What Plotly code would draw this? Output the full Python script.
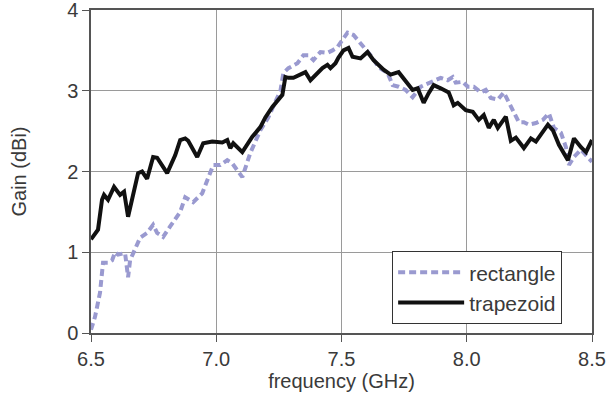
import plotly.graph_objects as go

# trapezoid (black solid)
trap_f = [6.500, 6.528, 6.544, 6.552, 6.568, 6.592, 6.616, 6.632, 6.648, 6.664,
          6.688, 6.704, 6.724, 6.748, 6.764, 6.804, 6.816, 6.836, 6.856, 6.876,
          6.888, 6.924, 6.948, 6.984, 7.024, 7.044, 7.056, 7.068, 7.104, 7.144,
          7.176, 7.196, 7.224, 7.248, 7.264, 7.276, 7.288, 7.308, 7.336, 7.356,
          7.376, 7.396, 7.424, 7.444, 7.456, 7.476, 7.488, 7.508, 7.528, 7.544,
          7.576, 7.604, 7.628, 7.668, 7.696, 7.728, 7.756, 7.784, 7.804, 7.828,
          7.848, 7.868, 7.896, 7.928, 7.948, 7.964, 7.996, 8.024, 8.048, 8.068,
          8.088, 8.108, 8.124, 8.144, 8.156, 8.176, 8.196, 8.228, 8.256, 8.276,
          8.304, 8.324, 8.344, 8.368, 8.404, 8.428, 8.456, 8.476, 8.500]
trap_g = [1.16, 1.28, 1.65, 1.71, 1.65, 1.81, 1.71, 1.75, 1.44, 1.65,
          1.98, 2.00, 1.91, 2.18, 2.17, 1.98, 2.06, 2.20, 2.39, 2.41,
          2.38, 2.18, 2.35, 2.37, 2.36, 2.39, 2.29, 2.35, 2.24, 2.43,
          2.55, 2.67, 2.80, 2.89, 2.95, 3.17, 3.16, 3.16, 3.20, 3.23,
          3.13, 3.20, 3.28, 3.32, 3.28, 3.34, 3.41, 3.50, 3.53, 3.42,
          3.40, 3.48, 3.38, 3.26, 3.20, 3.23, 3.11, 3.01, 3.03, 2.85,
          2.97, 3.07, 3.03, 2.98, 2.82, 2.85, 2.76, 2.74, 2.64, 2.70,
          2.54, 2.64, 2.54, 2.64, 2.68, 2.38, 2.42, 2.29, 2.41, 2.37,
          2.49, 2.58, 2.51, 2.33, 2.14, 2.41, 2.30, 2.24, 2.39]

# rectangle (lavender dashed)
rect_f = [6.500, 6.516, 6.536, 6.548, 6.568, 6.584, 6.596, 6.608, 6.636, 6.648,
          6.656, 6.676, 6.696, 6.724, 6.748, 6.764, 6.788, 6.816, 6.856, 6.876,
          6.908, 6.944, 6.964, 6.988, 7.016, 7.044, 7.064, 7.104, 7.136, 7.176,
          7.208, 7.236, 7.256, 7.268, 7.288, 7.324, 7.348, 7.368, 7.388, 7.416,
          7.444, 7.464, 7.484, 7.504, 7.524, 7.548, 7.576, 7.596, 7.624, 7.648,
          7.684, 7.704, 7.728, 7.756, 7.784, 7.816, 7.856, 7.896, 7.924, 7.944,
          7.956, 7.984, 8.004, 8.028, 8.056, 8.076, 8.096, 8.124, 8.148, 8.168,
          8.188, 8.208, 8.228, 8.248, 8.276, 8.304, 8.328, 8.348, 8.376, 8.396,
          8.408, 8.428, 8.456, 8.476, 8.500]
rect_g = [0.04, 0.20, 0.50, 0.87, 0.87, 0.90, 1.00, 0.97, 0.99, 0.69,
          0.90, 1.05, 1.18, 1.24, 1.34, 1.24, 1.19, 1.32, 1.50, 1.68,
          1.62, 1.73, 1.89, 2.08, 2.08, 2.14, 2.10, 1.93, 2.23, 2.51,
          2.67, 2.85, 3.00, 3.22, 3.28, 3.34, 3.44, 3.44, 3.38, 3.48,
          3.47, 3.50, 3.54, 3.63, 3.72, 3.69, 3.59, 3.50, 3.41, 3.29,
          3.22, 3.07, 3.05, 3.01, 2.92, 3.05, 3.10, 3.16, 3.13, 3.17,
          3.10, 3.11, 3.05, 3.05, 2.98, 3.01, 2.91, 2.89, 2.98, 2.86,
          2.72, 2.61, 2.61, 2.58, 2.60, 2.64, 2.72, 2.54, 2.48, 2.30,
          2.08, 2.18, 2.27, 2.20, 2.12]

x_ticks = [6.5, 7.0, 7.5, 8.0, 8.5]
x_labels = ["6.5", "7.0", "7.5", "8.0", "8.5"]
y_ticks = [0, 1, 2, 3, 4]

FONT = "Liberation Sans, Arial, sans-serif"
TXT = "#3a3a3a"

fig = go.Figure()
fig.add_trace(go.Scatter(x=rect_f, y=rect_g, mode="lines", name="rectangle",
                         line=dict(color="#9a9ad0", width=4, dash="7px,4px")))
fig.add_trace(go.Scatter(x=trap_f, y=trap_g, mode="lines", name="trapezoid",
                         line=dict(color="#111111", width=4)))

axis_common = dict(showline=True, linecolor="#555555", linewidth=1.5, mirror=True,
                   showgrid=True, gridcolor="#9a9a9a", gridwidth=1,
                   ticks="outside", ticklen=7, tickcolor="#555555",
                   tickfont=dict(family=FONT, size=20, color=TXT), zeroline=False,
                   automargin=False, ticklabeloverflow="allow")

fig.update_xaxes(range=[6.5, 8.5], tickvals=x_ticks, ticktext=x_labels,
                 title=dict(text="frequency (GHz)", font=dict(family=FONT, size=20, color=TXT),
                            standoff=4), **axis_common)
fig.update_yaxes(range=[0, 4], tickvals=y_ticks,
                 title=dict(text="Gain (dBi)", font=dict(family=FONT, size=20, color=TXT),
                            standoff=35), **axis_common)

fig.update_layout(
    width=612, height=405,
    margin=dict(l=91, r=20, t=10, b=72),
    plot_bgcolor="white", paper_bgcolor="white",
    showlegend=True,
    legend=dict(x=0.940, y=0.028, xanchor="right", yanchor="bottom",
                bgcolor="white", bordercolor="#333333", borderwidth=1.2,
                font=dict(family=FONT, size=21, color=TXT), itemwidth=66,
                tracegroupgap=0),
)

fig.write_html("out.html", config={"displayModeBar": False},
               post_script="document.body.style.margin='0';document.body.style.overflow='hidden';")
